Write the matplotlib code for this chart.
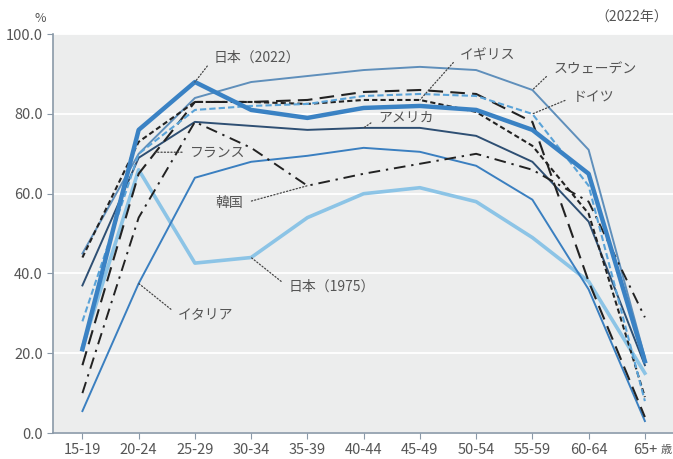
import matplotlib
matplotlib.use("Agg")
import matplotlib.pyplot as plt

plt.rcParams['font.family'] = ['Noto Sans CJK JP', 'DejaVu Sans']

# age groups
ages = ["15-19", "20-24", "25-29", "30-34", "35-39", "40-44",
        "45-49", "50-54", "55-59", "60-64", "65+"]

# labour force participation (%)
japan_2022 = [21, 76, 88, 81, 79, 81.5, 82, 81, 76, 65, 18]
japan_1975 = [21.5, 66, 42.6, 44, 54, 60, 61.5, 58, 49, 38, 15]
sweden = [45, 70, 84, 88, 89.5, 91, 91.8, 91, 86, 71, 19]
germany = [28, 70, 81, 82, 82.5, 84.5, 85, 84.5, 80, 62, 8]
uk = [44, 73, 83, 83, 82.5, 83.5, 83.5, 80.5, 72, 55, 9]
france = [17, 65, 83, 83, 83.5, 85.5, 86, 85, 78, 38, 4]
usa = [37, 69, 78, 77, 76, 76.5, 76.5, 74.5, 68, 53, 17]
korea = [10, 54, 78, 71.5, 62, 65, 67.5, 70, 66, 58, 29]
italy = [5.5, 37.5, 64, 68, 69.5, 71.5, 70.5, 67, 58.5, 36, 3]

TXT = "#555555"

fig = plt.figure(figsize=(6.73, 4.59), dpi=100)
ax = fig.add_axes([0.079, 0.0566, 0.921, 0.869])
ax.set_facecolor("#eceded")

x = range(len(ages))
ax.plot(x, japan_1975, color="#8cc4e6", lw=2.6, zorder=3)
ax.plot(x, italy, color="#3a7fc0", lw=1.4, zorder=3)
ax.plot(x, usa, color="#2e4f73", lw=1.4, zorder=3)
ax.plot(x, sweden, color="#5f8fbb", lw=1.4, zorder=3)
ax.plot(x, korea, color="#222222", lw=1.4, dashes=(6, 3, 1.2, 3), zorder=4)
ax.plot(x, france, color="#222222", lw=1.5, dashes=(7, 3.5), zorder=4)
ax.plot(x, uk, color="#222222", lw=1.5, dashes=(2.5, 1.5), zorder=4)
ax.plot(x, germany, color="#5aa3d8", lw=1.5, dashes=(3, 1.5), zorder=4)
ax.plot(x, japan_2022, color="#3a82c4", lw=3.2, zorder=5)

ax.set_xlim(-0.52, 10.5)
ax.set_ylim(0, 100)
ax.set_yticks([0, 20, 40, 60, 80, 100])
ax.set_yticklabels([f"{v:.1f}" for v in [0, 20, 40, 60, 80, 100]])
ax.set_xticks(list(x))
ax.set_xticklabels(ages)
ax.grid(axis="y", color="white", lw=1.3)
ax.set_axisbelow(True)
ax.tick_params(colors="#8a99a8", labelcolor=TXT, labelsize=10.5, length=4)
for s in ["top", "right"]:
    ax.spines[s].set_visible(False)
for s in ["left", "bottom"]:
    ax.spines[s].set_color("#8a99a8")
    ax.spines[s].set_linewidth(1.2)

# labels with dotted leaders
labels = [
    ("日本（2022）", (2.33, 94), (2, 88), (0, 0.5)),
    ("フランス", (1.92, 70.4), (1.3, 70.4), (0, 0.5)),
    ("韓国", (2.86, 57.6), (4, 62), (1, 0.5)),
    ("イギリス", (6.71, 94.7), (6.0, 83.5), (0, 0.5)),
    ("スウェーデン", (8.37, 91), (8, 86), (0, 0.5)),
    ("ドイツ", (8.72, 84.2), (8, 80), (0, 0.5)),
    ("アメリカ", (5.26, 79), (5, 76.5), (0, 0.5)),
    ("日本（1975）", (3.66, 36.6), (3, 44), (0, 0.5)),
    ("イタリア", (1.7, 29.6), (1, 37.5), (0, 0.5)),
]
for txt, pos, tip, rel in labels:
    ha = "left" if rel[0] == 0 else "right"
    ax.annotate(txt, xy=tip, xytext=pos, ha=ha, va="center",
                fontsize=10, color=TXT, zorder=6,
                arrowprops=dict(arrowstyle="-", color="#444444", lw=0.9,
                                linestyle=":", relpos=rel,
                                shrinkA=4, shrinkB=0))

fig.text(40 / 673, 1 - 18 / 459, "%", fontsize=9, color=TXT, ha="center", va="center")
fig.text(668 / 673, 1 - 18 / 459, "（2022年）", fontsize=10, color=TXT, ha="right", va="center")
fig.text(672 / 673, 1 - 450 / 459, "歳", fontsize=8, color=TXT, ha="right", va="center")

plt.savefig("out.png", dpi=100)
